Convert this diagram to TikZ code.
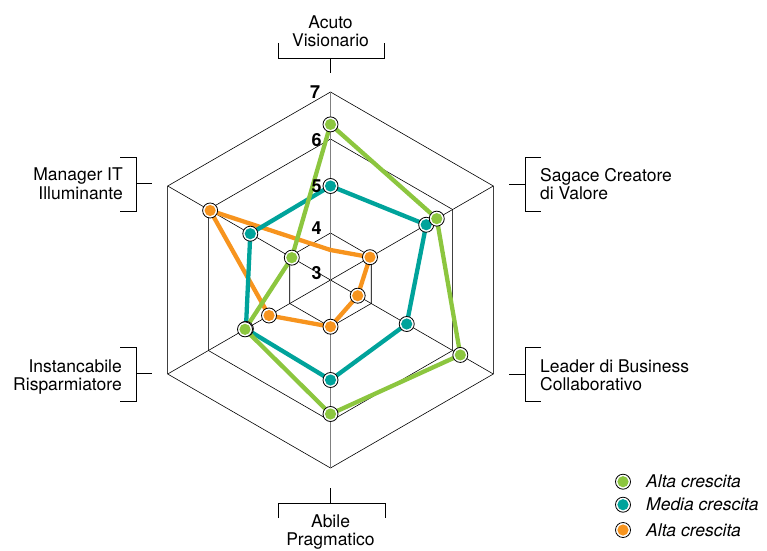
\documentclass[tikz,border=0pt]{standalone}
\usepackage{fontspec}
\setmainfont{TeX Gyre Heros}
\definecolor{cgreen}{HTML}{8CC63F}
\definecolor{cteal}{HTML}{00A39B}
\definecolor{corange}{HTML}{F7941E}
\begin{document}
\begin{tikzpicture}[x=1pt,y=1pt,
  lab/.style={font=\fontsize{17.5}{18.5}\selectfont, inner sep=0pt},
  num/.style={font=\fontsize{18}{18}\bfseries\selectfont, inner sep=0pt},
  leg/.style={font=\fontsize{17.5}{18.5}\selectfont\itshape, inner sep=0pt, anchor=west},
  grid/.style={black, line width=0.6pt},
  vgrid/.style={black!75, line width=0.7pt},
  spoke/.style={black!50, line width=1.4pt},
  brk/.style={black, line width=0.9pt},
  serie/.style={line width=4.3pt, line join=round},
  dot/.style={circle, draw=black, line width=0.8pt, fill=white, minimum size=15pt, inner sep=0pt,
    path picture={\fill[#1] (path picture bounding box.center) circle (5.6pt);}}
]
\useasboundingbox (0,0) rectangle (767,550);
\coordinate (C) at (330.5,270);
\begin{scope}[shift={(C)}]
  \foreach \r in {47,141,188}{
    \draw[grid] (90:\r)--(30:\r)--(-30:\r)--(-90:\r)--(210:\r)--(150:\r)--cycle;
    \draw[vgrid] (30:\r)--(-30:\r) (150:\r)--(210:\r);
  }
  \foreach \a in {30,-30,150,210}{\draw[grid] (0,0)--(\a:188);}
  \draw[spoke] (90:188)--(-90:188);
  % green
  \coordinate (g1) at (90:155.6);
  \coordinate (g2) at (30:122.7);
  \coordinate (g3) at (-30:149.9);
  \coordinate (g4) at (-90:134);
  \coordinate (g5) at (210:98.7);
  \coordinate (g6) at (150:44.7);
  % teal
  \coordinate (t1) at (90:94);
  \coordinate (t2) at (30:110.5);
  \coordinate (t3) at (-30:88);
  \coordinate (t4) at (-90:100);
  \coordinate (t5) at (210:97.7);
  \coordinate (t6) at (150:92.6);
  % orange
  \coordinate (o1) at (90:30);
  \coordinate (o2) at (30:45.6);
  \coordinate (o3) at (-30:31.4);
  \coordinate (o4) at (-90:46.7);
  \coordinate (o5) at (210:71);
  \coordinate (o6) at (150:139);
\end{scope}
\draw[serie, corange] (o1)--(o2)--(o3)--(o4)--(o5)--(o6)--cycle;
\draw[serie, cteal] (t1)--(t2)--(t3)--(t4)--(t5)--(t6)--cycle;
\draw[serie, cgreen] (g1)--(g2)--(g3)--(g4)--(g5)--(g6)--cycle;
\foreach \i in {2,...,6}{\node[dot=corange] (om\i) at (o\i) {};}
\foreach \i in {1,...,6}{\node[dot=cteal] (tm\i) at (t\i) {};}
\foreach \i in {1,...,6}{\node[dot=cgreen] (gm\i) at (g\i) {};}
% scale numbers
\node[num] (n7) at (315,458.3) {7};
\node[num] (n6) at (316.5,409.5) {6};
\node[num] (n5) at (316.5,364) {5};
\node[num] (n4) at (316.5,321.7) {4};
\node[num] (n3) at (316.5,276.7) {3};
% labels
\node[lab, align=center] (lA) at (330.5,518.8) {Acuto\\Visionario};
\node[lab, align=center] (lB) at (330.5,18) {Abile\\Pragmatico};
\node[lab, align=left, anchor=west] (lS) at (540,366) {Sagace Creatore\\di Valore};
\node[lab, align=left, anchor=west] (lL) at (540,174.7) {Leader di Business\\Collaborativo};
\node[lab, align=right, anchor=east] (lM) at (123,366) {Manager IT\\Illuminante};
\node[lab, align=right, anchor=east] (lI) at (122,173) {Instancabile\\Risparmiatore};
% brackets
\coordinate (bAt) at (330.5,477);
\draw[brk] (278,507)--(278,492)--(384,492)--(384,507) (330.5,492)--(bAt);
\coordinate (bBt) at (330.5,62);
\draw[brk] (278,32)--(278,47)--(385,47)--(385,32) (330.5,47)--(bBt);
\coordinate (bSt) at (509,366);
\draw[brk] (541,393)--(525,393)--(525,339)--(541,339) (525,366)--(bSt);
\coordinate (bLt) at (509,176);
\draw[brk] (541,203)--(525,203)--(525,149)--(541,149) (525,176)--(bLt);
\coordinate (bMt) at (152,367);
\draw[brk] (120,393)--(136,393)--(136,339)--(120,339) (136,367)--(bMt);
\coordinate (bIt) at (152,177);
\draw[brk] (120,203)--(136,203)--(136,149)--(120,149) (136,177)--(bIt);
% legend
\node[dot=cgreen] (k1) at (623,68.3) {};
\node[dot=cteal] (k2) at (623,45.3) {};
\node[dot=corange] (k3) at (623,20) {};
\node[leg] (k1t) at (646,68.3) {Alta crescita};
\node[leg] (k2t) at (646,45.3) {Media crescita};
\node[leg] (k3t) at (646,20) {Alta crescita};
\end{tikzpicture}
\end{document}
